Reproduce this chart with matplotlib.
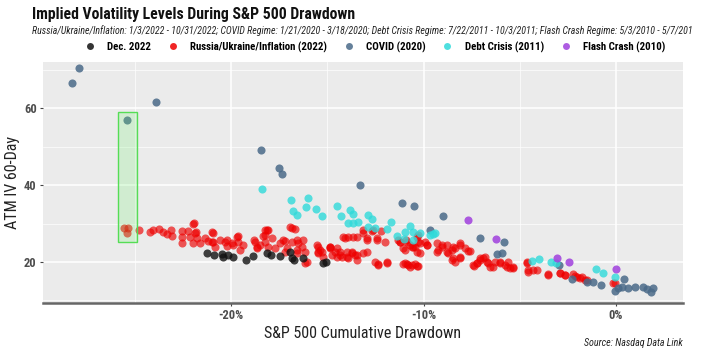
import matplotlib
matplotlib.use("Agg")
import matplotlib.pyplot as plt
from matplotlib.patches import Rectangle
from matplotlib.ticker import MultipleLocator, FuncFormatter

# ---------------- data (drawdown %, ATM IV 60-day) ----------------
red_x = [-25.56, -25.35, -25.40, -24.78, -24.21, -24.05, -23.74, -23.53, -23.32, -23.12, -23.06,
         -22.55, -22.55, -22.55, -22.23, -22.13, -21.92, -21.82, -21.77, -21.61, -21.35, -20.99,
         -21.19, -20.94, -20.83, -20.57, -20.31, -20.21, -19.95, -19.69, -19.64, -19.38, -18.81,
         -18.65, -18.49, -18.34, -18.23, -18.08,
         -21.97, -21.87, -21.97, -20.94, -20.99, -20.21, -19.64, -19.53, -19.90, -18.75, -18.65,
         -18.23, -18.13, -17.87, -17.45, -17.19, -17.09, -16.94, -16.68, -16.52, -16.57, -16.26,
         -16.16, -15.53, -15.48, -15.22, -14.86, -14.60, -14.49,
         -18.08, -18.23, -17.71, -17.30, -17.19, -16.83, -16.83, -16.57, -16.57, -16.31, -16.16,
         -16.05, -15.48, -15.48, -15.27, -14.86, -14.75, -14.49, -14.34, -14.23, -13.97, -13.92,
         -13.71, -13.56, -13.45, -14.08, -13.92, -13.45, -13.14, -12.94, -12.94, -12.42, -12.52,
         -12.36, -11.90, -12.00, -11.32, -11.22, -11.06, -10.86, -10.70, -10.44, -10.29, -10.18,
         -9.92, -11.06, -10.81, -10.44, -10.29,
         -13.14, -12.94, -12.62, -13.66, -12.42, -10.91, -10.34, -10.18, -10.60, -9.82, -9.30,
         -9.04, -8.78, -8.47, -8.10, -7.84, -9.30, -8.73, -8.47, -8.10, -8.36, -7.43, -7.22,
         -12.36, -11.90, -10.96, -10.70, -10.34, -15.38, -14.86, -14.34, -13.97, -13.71, -13.45,
         -13.14, -14.18, -12.70, -12.20, -10.30,
         -11.22, -10.96, -10.86, -10.60, -10.55, -10.34, -9.82, -9.25, -9.04, -8.78, -8.52,
         -8.52, -8.36, -8.10, -8.10, -7.69, -7.38, -7.06, -6.91, -6.70, -6.55, -6.29, -6.03,
         -5.66, -5.35, -5.61, -4.62, -4.57, -4.31, -3.53, -2.91, -2.65, -2.23, -2.03, -1.77,
         -1.51, -0.05,
         -7.58, -7.22, -7.06, -6.81, -6.65, -6.39, -6.03, -5.77, -5.51, -5.35, -4.62, -4.57,
         -4.10, -3.53, -2.91, -2.65, -2.13, -1.87, -1.61, -0.16]
red_y = [28.9, 28.9, 27.6, 28.3, 27.8, 28.3, 28.6, 27.8, 27.3, 28.3, 26.8,
         28.1, 26.5, 24.9, 28.1, 26.5, 30.2, 27.8, 26.3, 24.9, 26.3, 27.8,
         25.5, 25.2, 23.9, 25.7, 25.2, 24.2, 24.9, 26.5, 25.2, 24.4, 25.7,
         23.9, 24.4, 26.8, 28.3, 23.9,
         29.9, 27.6, 24.9, 27.6, 25.2, 25.7, 26.8, 23.1, 24.4, 25.2, 23.6,
         27.0, 28.3, 26.3, 24.9, 25.5, 23.6, 29.1, 28.6, 24.9, 22.3, 25.7,
         19.7, 24.4, 22.6, 21.3, 23.9, 22.6, 21.3,
         28.3, 25.2, 23.6, 25.7, 22.6, 28.9, 25.2, 25.7, 23.1, 23.9, 22.6,
         20.0, 23.9, 22.3, 22.6, 23.9, 21.8, 23.6, 22.6, 21.3, 22.6, 21.0,
         22.6, 21.8, 20.5, 26.3, 26.5, 26.5, 27.6, 25.7, 22.6, 25.7, 20.0,
         19.5, 20.0, 25.2, 25.7, 25.2, 23.6, 25.2, 24.4, 23.9, 25.2, 22.3,
         25.2, 19.5, 19.2, 19.5, 19.0,
         28.3, 26.3, 28.3, 26.5, 26.3, 25.7, 26.5, 24.9, 23.9, 24.4, 24.9,
         23.9, 24.4, 23.9, 24.4, 23.6, 22.6, 22.3, 21.0, 21.0, 20.0, 19.2, 19.7,
         19.2, 19.7, 19.7, 18.7, 19.0, 23.1, 23.6, 21.8, 21.3, 22.3, 21.8,
         22.3, 26.5, 28.0, 28.2, 27.0,
         25.2, 23.1, 19.5, 19.2, 23.9, 22.6, 24.4, 23.1, 24.4, 22.6, 23.1,
         20.5, 23.6, 24.9, 21.3, 22.9, 19.0, 20.5, 21.0, 20.0, 18.7, 20.0, 19.7,
         18.7, 18.4, 20.0, 20.0, 17.9, 17.9, 16.6, 17.1, 16.6, 16.9, 16.1, 16.1,
         15.3, 14.5,
         22.9, 19.7, 21.0, 21.3, 19.7, 18.7, 20.0, 19.2, 18.4, 18.7, 19.7, 17.4,
         17.9, 16.9, 17.1, 16.6, 16.4, 15.8, 15.3, 14.5]

dec_x = [-21.25, -20.47, -20.42, -20.16, -19.90, -19.22, -18.86, -18.13, -17.92, -17.45,
         -16.94, -16.73, -16.26, -15.22, -15.06, -20.90, -16.85]
dec_y = [22.3, 22.1, 21.3, 21.8, 21.3, 20.5, 21.6, 22.3, 21.8, 21.6,
         22.6, 20.5, 21.0, 19.7, 20.0, 21.9, 21.1]

covid_x = [-28.26, -27.90, -23.90, -25.40, -18.44, -17.50, -17.35, -13.30, -11.10, -10.50,
           -9.00, -9.66, -7.06, -5.80, -6.20, -5.90, -2.96, -2.30, -1.50, -1.20, -0.80,
           0.40, -0.05, 0.30, 0.60, 1.00, 1.40, 1.60, 1.80, 1.90, 0.10]
covid_y = [66.6, 70.5, 61.7, 57.0, 49.2, 44.5, 42.9, 40.0, 35.4, 34.6,
           32.0, 28.3, 26.2, 25.2, 22.1, 22.3, 19.2, 15.6, 14.8, 14.8, 14.0,
           15.6, 12.4, 13.5, 13.2, 13.5, 13.5, 13.0, 12.2, 13.2, 13.2]

debt_x = [-18.39, -16.88, -16.00, -16.78, -16.57, -16.10, -15.58, -15.27, -14.49, -14.29,
          -13.82, -13.66, -13.92, -13.66, -13.40, -12.88, -12.68, -12.88, -12.52, -11.69,
          -11.90, -11.38, -10.96, -10.70, -10.55, -10.18, -9.66, -9.40, -11.01, -10.55,
          -9.50, -4.36, -4.00, -3.38, -3.12, -1.04, -0.68, -0.05]
debt_y = [39.0, 36.1, 36.7, 33.3, 32.2, 34.3, 33.8, 32.0, 34.6, 32.0,
          33.5, 32.5, 30.2, 30.2, 30.4, 32.2, 31.2, 29.1, 28.9, 30.4,
          28.6, 26.8, 27.8, 29.4, 27.8, 27.6, 27.0, 27.6, 26.0, 25.7,
          27.4, 20.3, 20.8, 20.0, 19.7, 18.2, 17.1, 16.1]

flash_x = [-7.69, -6.23, -3.07, -2.44, 0.00]
flash_y = [30.9, 26.0, 21.0, 20.0, 18.2]

series_names = ["Dec. 2022", "Russia/Ukraine/Inflation (2022)", "COVID (2020)",
                "Debt Crisis (2011)", "Flash Crash (2010)"]
highlight_x = [-25.87, -24.88]
highlight_y = [25.2, 59.1]

FONT = ["Roboto Condensed", "Roboto"]

# ---------------- figure ----------------
W, H = 709, 358
fig = plt.figure(figsize=(W / 100, H / 100), dpi=100)
fig.patch.set_facecolor("white")
ax = fig.add_axes([43 / W, 1 - 303 / H, (683 - 43) / W, (303 - 62) / H])
ax.set_facecolor("#ebebeb")

ax.set_xlim(-29.77, 3.48)
ax.set_ylim(9.32, 72.1)

ax.xaxis.set_major_locator(MultipleLocator(10))
ax.xaxis.set_minor_locator(MultipleLocator(5))
ax.yaxis.set_major_locator(MultipleLocator(20))
ax.yaxis.set_minor_locator(MultipleLocator(10))
ax.grid(which="major", color="white", linewidth=1.1)
ax.grid(which="minor", color="white", linewidth=0.5)
ax.set_axisbelow(True)
ax.xaxis.set_major_formatter(FuncFormatter(lambda v, p: f"{int(round(v))}%"))
ax.yaxis.set_major_formatter(FuncFormatter(lambda v, p: f"{int(round(v))}"))

for s in ["top", "right", "left"]:
    ax.spines[s].set_visible(False)
ax.spines["bottom"].set_color("#666666")
ax.spines["bottom"].set_linewidth(1.8)

ax.tick_params(axis="both", which="major", length=2.5, color="#444444",
               labelsize=9, labelcolor="#4d4d4d", pad=2)
ax.tick_params(which="minor", length=0)
for lab in ax.get_xticklabels() + ax.get_yticklabels():
    lab.set_fontweight("bold")
    lab.set_family(FONT)

ms = 34
colors = ["#111111", "#ee0000", "#4a6a88", "#30dada", "#a040dd"]
ax.scatter(red_x, red_y, s=ms, color=colors[1], alpha=0.65, linewidths=0, zorder=3)
ax.scatter(dec_x, dec_y, s=ms, color=colors[0], alpha=0.8, linewidths=0, zorder=4)
ax.scatter(covid_x, covid_y, s=ms, color=colors[2], alpha=0.85, linewidths=0, zorder=3)
ax.scatter(debt_x, debt_y, s=ms, color=colors[3], alpha=0.8, linewidths=0, zorder=3)
ax.scatter(flash_x, flash_y, s=ms, color=colors[4], alpha=0.85, linewidths=0, zorder=3)

rect = Rectangle((highlight_x[0], highlight_y[0]), highlight_x[1] - highlight_x[0],
                 highlight_y[1] - highlight_y[0], facecolor=(0.4, 0.95, 0.4, 0.2),
                 edgecolor="#55dd55", linewidth=1.0, zorder=5)
ax.add_patch(rect)

ax.set_xlabel("S&P 500 Cumulative Drawdown", fontsize=11.5, family=FONT,
              color="#222222", labelpad=3)
ax.set_ylabel("ATM IV 60-Day", fontsize=11.5, family=FONT, color="#222222",
              labelpad=3)

# titles
fig.text(32 / W, 1 - 14 / H, "Implied Volatility Levels During S&P 500 Drawdown",
         fontsize=11.3, fontweight="bold", family=FONT, va="center", ha="left",
         color="#111111")
fig.text(32 / W, 1 - 31 / H,
         "Russia/Ukraine/Inflation: 1/3/2022 - 10/31/2022; COVID Regime: 1/21/2020 - 3/18/2020; "
         "Debt Crisis Regime: 7/22/2011 - 10/3/2011; Flash Crash Regime: 5/3/2010 - 5/7/201",
         fontsize=7.1, style="italic", family=FONT, va="center", ha="left",
         color="#222222")

handles = [plt.Line2D([], [], marker="o", linestyle="", markersize=5,
                      markerfacecolor=c, markeredgewidth=0, alpha=0.85) for c in colors]
leg = fig.legend(handles, series_names, loc="center", bbox_to_anchor=(0.525, 1 - 47 / H),
                 ncol=5, frameon=False, handletextpad=0.6, columnspacing=1.0,
                 prop={"family": FONT, "weight": "bold", "size": 7.8})

fig.text(683 / W, 1 - 343 / H, "Source: Nasdaq Data Link", fontsize=7.2, style="italic",
         family=FONT, ha="right", va="center", color="#222222")

fig.savefig("out.png", dpi=100, facecolor="white")
